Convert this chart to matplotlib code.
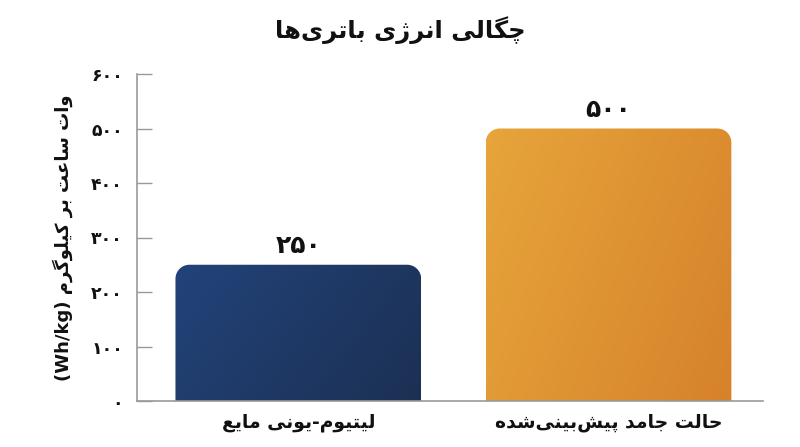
import matplotlib
matplotlib.use("Agg")
import matplotlib.pyplot as plt
import numpy as np
from matplotlib.path import Path
from matplotlib.patches import PathPatch
from matplotlib.colors import LinearSegmentedColormap

# ---------------- data ----------------
title = "چگالی انرژی باتری‌ها"
ylabel = "وات ساعت بر کیلوگرم (Wh/kg)"
categories = ["لیتیوم-یونی مایع", "حالت جامد پیش‌بینی‌شده"]
values = [250, 500]
yticks = [0, 100, 200, 300, 400, 500, 600]
bar_colors = [("#22437a", "#1c3053"), ("#e7a53b", "#d6822b")]

# ---------------- minimal Persian shaping + bidi ----------------
FORMS = {  # iso, fin, ini, med (None => right-joining only)
    "\u0627": ("\uFE8D", "\uFE8E", None, None),
    "\u0628": ("\uFE8F", "\uFE90", "\uFE91", "\uFE92"),
    "\u062A": ("\uFE95", "\uFE96", "\uFE97", "\uFE98"),
    "\u062C": ("\uFE9D", "\uFE9E", "\uFE9F", "\uFEA0"),
    "\u062D": ("\uFEA1", "\uFEA2", "\uFEA3", "\uFEA4"),
    "\u062F": ("\uFEA9", "\uFEAA", None, None),
    "\u0631": ("\uFEAD", "\uFEAE", None, None),
    "\u0632": ("\uFEAF", "\uFEB0", None, None),
    "\u0633": ("\uFEB1", "\uFEB2", "\uFEB3", "\uFEB4"),
    "\u0634": ("\uFEB5", "\uFEB6", "\uFEB7", "\uFEB8"),
    "\u0639": ("\uFEC9", "\uFECA", "\uFECB", "\uFECC"),
    "\u0644": ("\uFEDD", "\uFEDE", "\uFEDF", "\uFEE0"),
    "\u0645": ("\uFEE1", "\uFEE2", "\uFEE3", "\uFEE4"),
    "\u0646": ("\uFEE5", "\uFEE6", "\uFEE7", "\uFEE8"),
    "\u0647": ("\uFEE9", "\uFEEA", "\uFEEB", "\uFEEC"),
    "\u0648": ("\uFEED", "\uFEEE", None, None),
    "\u067E": ("\uFB56", "\uFB57", "\uFB58", "\uFB59"),
    "\u0686": ("\uFB7A", "\uFB7B", "\uFB7C", "\uFB7D"),
    "\u0698": ("\uFB8A", "\uFB8B", None, None),
    "\u06A9": ("\uFB8E", "\uFB8F", "\uFB90", "\uFB91"),
    "\u06AF": ("\uFB92", "\uFB93", "\uFB94", "\uFB95"),
    "\u06CC": ("\uFBFC", "\uFBFD", "\uFBFE", "\uFBFF"),
}


def shape(s):
    out = []
    n = len(s)
    for i, c in enumerate(s):
        if c not in FORMS:
            if c != "\u200c":
                out.append(c)
            continue
        f = FORMS[c]
        prev = s[i - 1] if i > 0 else ""
        nxt = s[i + 1] if i + 1 < n else ""
        jp = prev in FORMS and FORMS[prev][2] is not None
        jn = f[2] is not None and nxt in FORMS
        if jp and jn:
            out.append(f[3])
        elif jp:
            out.append(f[1])
        elif jn:
            out.append(f[2])
        else:
            out.append(f[0])
    return "".join(out)


def is_ltr(c):
    return (c.isascii() and (c.isalnum() or c == "/")) or ("\u06F0" <= c <= "\u06F9")


MIRROR = {"(": ")", ")": "("}


def rtl(s):
    s = shape(s)
    runs = []
    for c in s:
        t = is_ltr(c)
        if runs and runs[-1][0] == t:
            runs[-1][1].append(c)
        else:
            runs.append([t, [c]])
    res = []
    for t, chars in reversed(runs):
        if t:
            res.append("".join(chars))
        else:
            res.append("".join(MIRROR.get(c, c) for c in reversed(chars)))
    return "".join(res)


def fa_num(v):
    return str(v).translate(str.maketrans("0123456789", "۰۱۲۳۴۵۶۷۸۹"))


# ---------------- plot ----------------
plt.rcParams["font.family"] = ["DejaVu Sans"]
fig = plt.figure(figsize=(8, 4.47), dpi=100)
ax = fig.add_axes([137 / 800, 1 - 401 / 447, (763 - 137) / 800, (401 - 74) / 447])

XL, XR = -0.52, 1.498
x = np.arange(len(categories))
bars = ax.bar(x, values, width=0.792, color="none", edgecolor="none")
ax.set_xlim(XL, XR)
ax.set_ylim(0, 600)

px_per_x = (ax.get_position().width * 800) / (XR - XL)
px_per_y = (ax.get_position().height * 447) / 600
r_px = 14
rx, ry = r_px / px_per_x, r_px / px_per_y
k = 0.5523

for rect, (c1, c2) in zip(bars, bar_colors):
    x0, w, h = rect.get_x(), rect.get_width(), rect.get_height()
    x1 = x0 + w
    y0 = -50
    verts = [
        (x0, y0), (x0, h - ry),
        (x0, h - ry + k * ry), (x0 + rx - k * rx, h), (x0 + rx, h),
        (x1 - rx, h),
        (x1 - rx + k * rx, h), (x1, h - ry + k * ry), (x1, h - ry),
        (x1, y0), (x0, y0),
    ]
    codes = [Path.MOVETO, Path.LINETO,
             Path.CURVE4, Path.CURVE4, Path.CURVE4,
             Path.LINETO,
             Path.CURVE4, Path.CURVE4, Path.CURVE4,
             Path.LINETO, Path.CLOSEPOLY]
    patch = PathPatch(Path(verts, codes), facecolor="none", edgecolor="none")
    ax.add_patch(patch)
    cmap = LinearSegmentedColormap.from_list("g", [c1, c2])
    gx, gy = np.meshgrid(np.linspace(0, 1, 200), np.linspace(0, 1, 200))
    grad = 0.7 * gx + 0.3 * gy   # row 0 = top of bar
    im = ax.imshow(grad, cmap=cmap, extent=(x0, x1, 0, h), origin="upper",
                   aspect="auto", interpolation="bilinear", zorder=2)
    im.set_clip_path(patch)
    ax.text(x0 + w / 2, h + 12, fa_num(int(h)),
            ha="center", va="bottom", fontsize=18, fontweight="bold", color="#111111")

ax.set_xlim(XL, XR)
ax.set_ylim(0, 600)

ax.set_yticks(yticks)
ax.set_yticklabels([fa_num(v) for v in yticks], fontsize=12.5, fontweight="bold", color="#111111")
ax.tick_params(axis="y", direction="in", length=11, width=1, color="#999999", pad=10)
ax.set_xticks(x)
ax.set_xticklabels([rtl(c) for c in categories], fontsize=13.5, fontweight="bold", color="#111111")
ax.tick_params(axis="x", length=0, pad=9)

for s in ["top", "right"]:
    ax.spines[s].set_visible(False)
for s in ["left", "bottom"]:
    ax.spines[s].set_color("#999999")
    ax.spines[s].set_linewidth(1.2)

ax.set_ylabel(rtl(ylabel), fontsize=13, fontweight="bold", color="#111111", labelpad=13)
fig.text(0.5, 1 - 30 / 447, rtl(title), ha="center", va="center", fontsize=17.5,
         fontweight="bold", color="#111111")

fig.savefig("out.png", dpi=100, facecolor="white")
